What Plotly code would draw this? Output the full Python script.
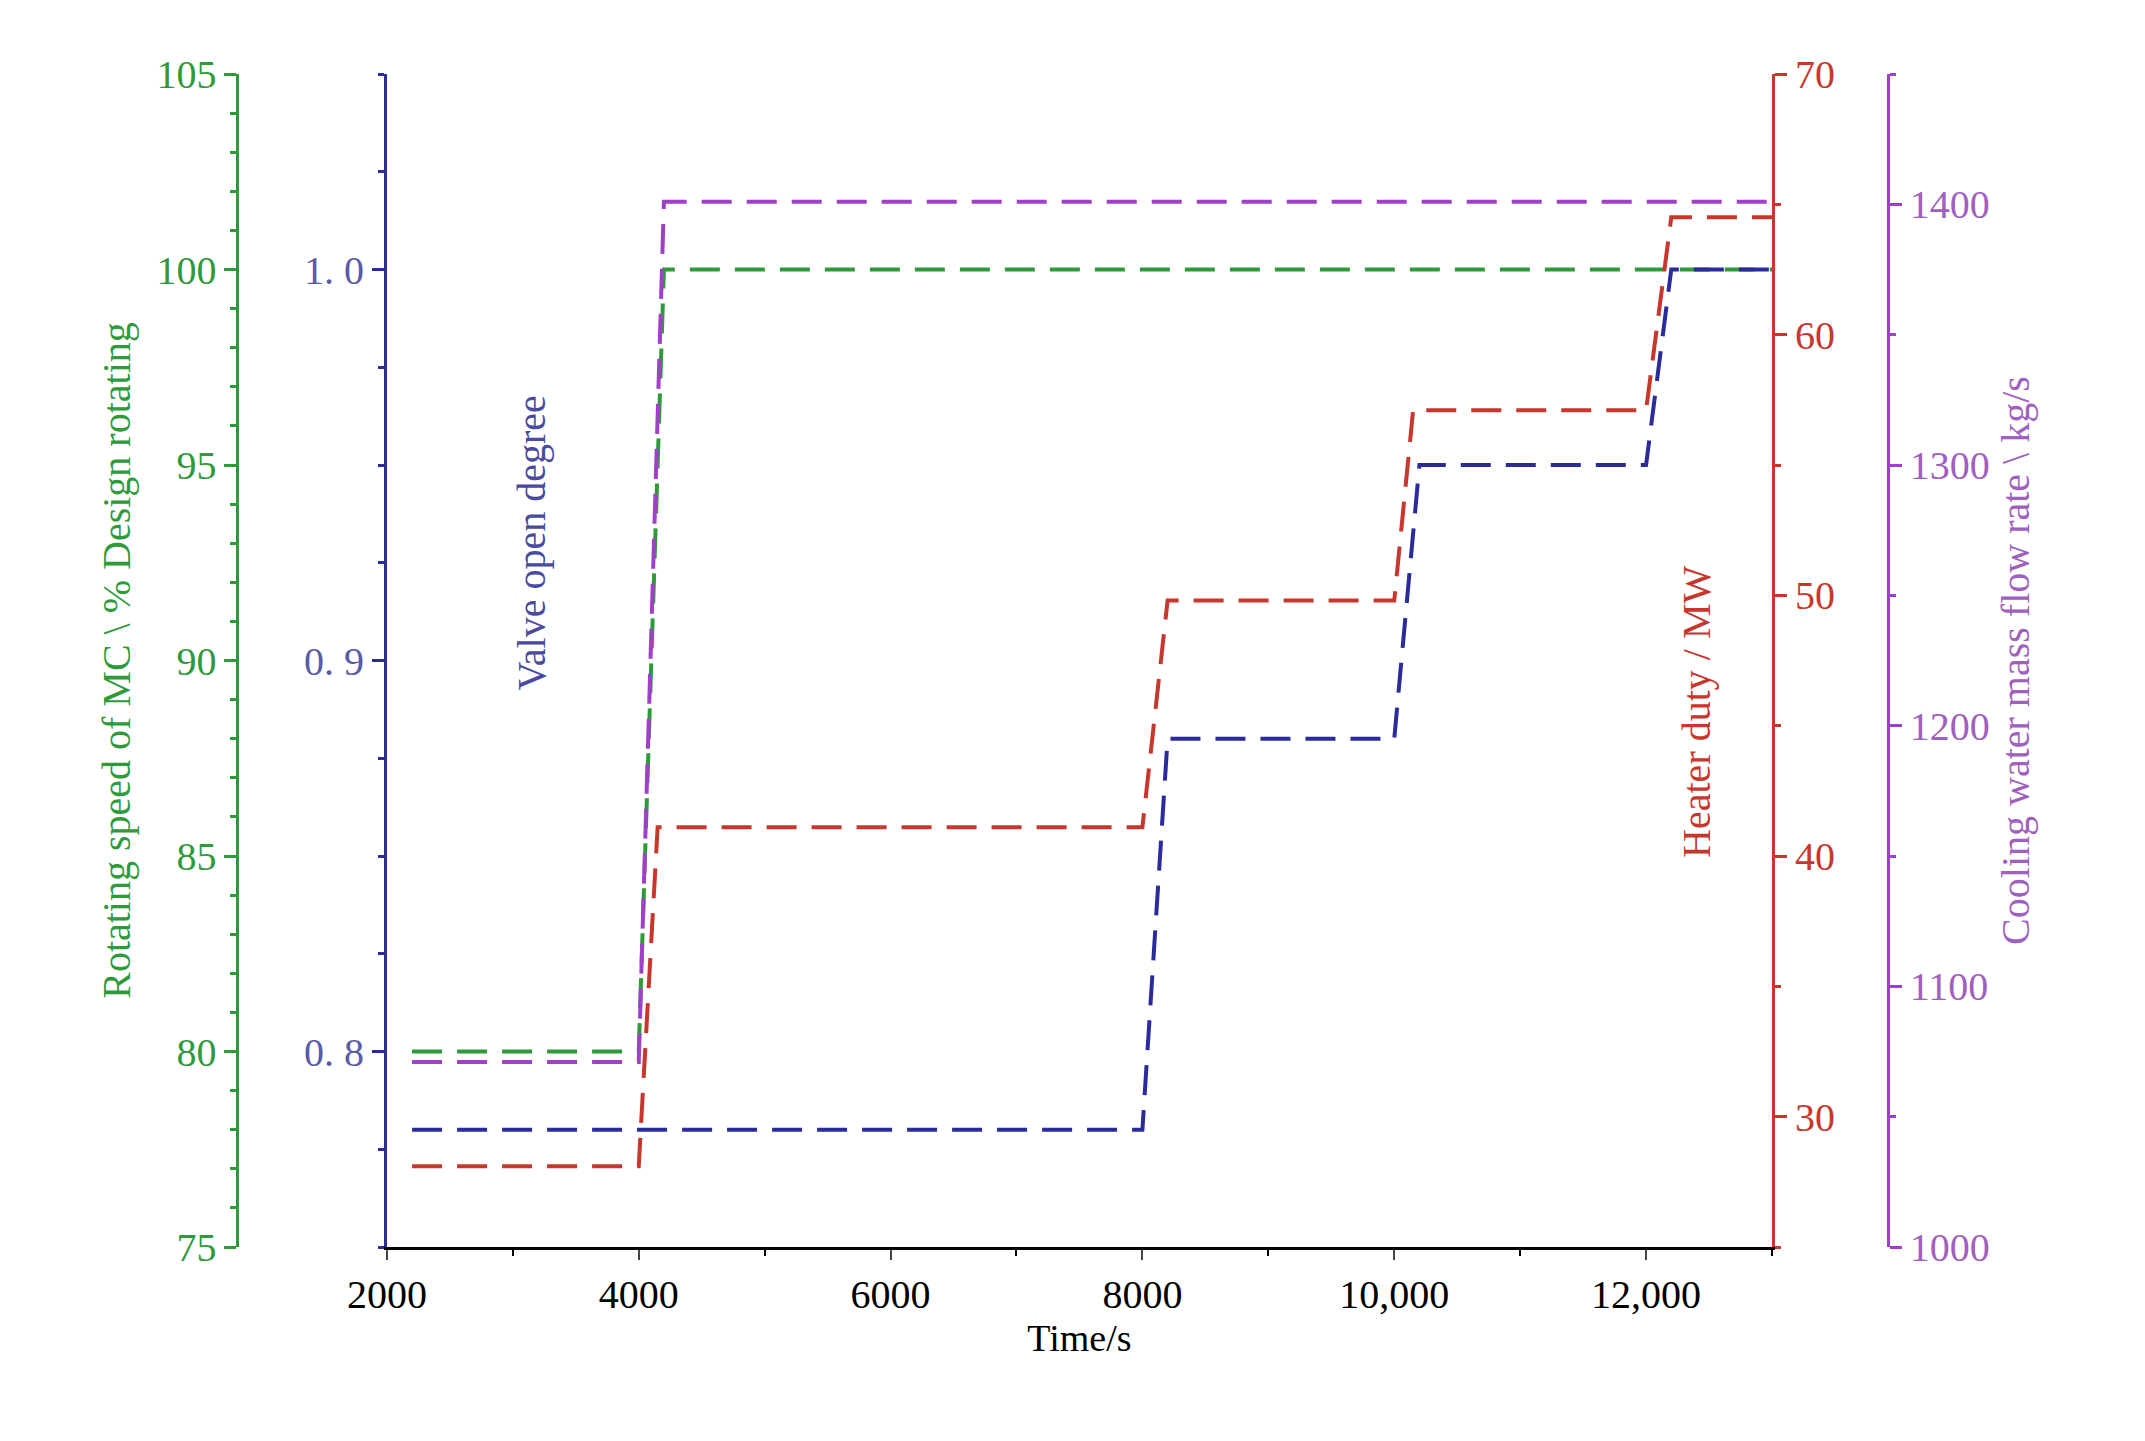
import plotly.graph_objects as go

# Data
green_t = [2200, 4000, 4200, 13000]
green_v = [80, 80, 100, 100]
purple_t = [2200, 4000, 4200, 13000]
purple_v = [1071, 1071, 1401, 1401]
blue_t = [2200, 8000, 8200, 10000, 10200, 12000, 12200, 13000]
blue_v = [0.78, 0.78, 0.88, 0.88, 0.95, 0.95, 1.0, 1.0]
red_t = [2200, 4000, 4150, 8000, 8200, 10000, 10150, 12000, 12200, 13000]
red_v = [28.1, 28.1, 41.1, 41.1, 49.8, 49.8, 57.1, 57.1, 64.5, 64.5]

xticks = [2000, 4000, 6000, 8000, 10000, 12000]
xlabels = ["2000", "4000", "6000", "8000", "10,000", "12,000"]

G, B, R, P = "#2e9a3a", "#2b2b9c", "#c8372d", "#a040c8"
F = "Liberation Serif"
dash = "30px,15px"

fig = go.Figure()
fig.add_trace(go.Scatter(x=red_t, y=red_v, yaxis="y3", mode="lines", line=dict(color=R, width=4, dash=dash)))
fig.add_trace(go.Scatter(x=blue_t, y=blue_v, yaxis="y2", mode="lines", line=dict(color=B, width=4, dash=dash)))
fig.add_trace(go.Scatter(x=green_t, y=green_v, yaxis="y", mode="lines", line=dict(color=G, width=4, dash=dash)))
fig.add_trace(go.Scatter(x=purple_t, y=purple_v, yaxis="y4", mode="lines", line=dict(color=P, width=4, dash=dash)))

tickf = lambda c: dict(family=F, size=40, color=c)
fig.update_layout(
    width=2145, height=1441, showlegend=False,
    paper_bgcolor="white", plot_bgcolor="white",
    margin=dict(l=0, r=0, t=66, b=202),
    xaxis=dict(domain=[0.161, 0.819], range=[2000, 13000], tickvals=xticks, ticktext=xlabels,
               ticks="outside", ticklen=10, tickwidth=2, showline=True, linecolor="black", linewidth=3,
               minor=dict(dtick=1000, ticks="outside", ticklen=6, tickcolor="black"),
               showgrid=False, zeroline=False, tickfont=tickf("black"),
               title=dict(text="Time/s", font=dict(family=F, size=38, color="black"), standoff=8)),
    yaxis=dict(range=[75, 105], dtick=5, anchor="free", position=0.090, side="left",
               showline=True, linecolor=G, linewidth=3, ticks="outside", tickcolor=G, ticklen=12, tickwidth=3,
               minor=dict(dtick=1, ticks="outside", ticklen=6, tickcolor=G),
               showgrid=False, zeroline=False, tickfont=tickf(G),
               title=dict(text="Rotating speed of MC \\ % Design rotating", font=dict(family=F, size=40, color=G), standoff=12)),
    yaxis2=dict(range=[0.75, 1.05], overlaying="y", anchor="x", side="left",
                tickvals=[0.8, 0.9, 1.0], ticktext=["0. 8", "0. 9", "1. 0"],
                showline=True, linecolor=B, linewidth=3, ticks="outside", tickcolor=B, ticklen=12, tickwidth=3,
                minor=dict(dtick=0.025, ticks="outside", ticklen=6, tickcolor=B),
                showgrid=False, zeroline=False, tickfont=tickf("#5a5aa8")),
    yaxis3=dict(range=[25, 70], overlaying="y", anchor="x", side="right",
                tickvals=[30, 40, 50, 60, 70],
                showline=True, linecolor=R, linewidth=3, ticks="outside", tickcolor=R, ticklen=12, tickwidth=3,
                minor=dict(dtick=5, ticks="outside", ticklen=6, tickcolor=R),
                showgrid=False, zeroline=False, tickfont=tickf(R)),
    yaxis4=dict(range=[1000, 1450], overlaying="y", anchor="free", position=0.874, side="right",
                tickvals=[1000, 1100, 1200, 1300, 1400],
                showline=True, linecolor=P, linewidth=3, ticks="outside", tickcolor=P, ticklen=12, tickwidth=3,
                minor=dict(dtick=50, ticks="outside", ticklen=6, tickcolor=P),
                showgrid=False, zeroline=False, tickfont=tickf("#a060c0"),
                title=dict(text="Cooling water mass flow rate \\ kg/s", font=dict(family=F, size=40, color="#a060c0"), standoff=12)),
    annotations=[
        dict(text="Valve open degree", xref="paper", yref="paper", x=0.218, y=0.60, textangle=-90,
             showarrow=False, font=dict(family=F, size=40, color="#4a4aa0")),
        dict(text="Heater duty / MW", xref="paper", yref="paper", x=0.795, y=0.33, textangle=-90,
             showarrow=False, font=dict(family=F, size=40, color=R)),
    ],
)
fig.write_html("out.html")
